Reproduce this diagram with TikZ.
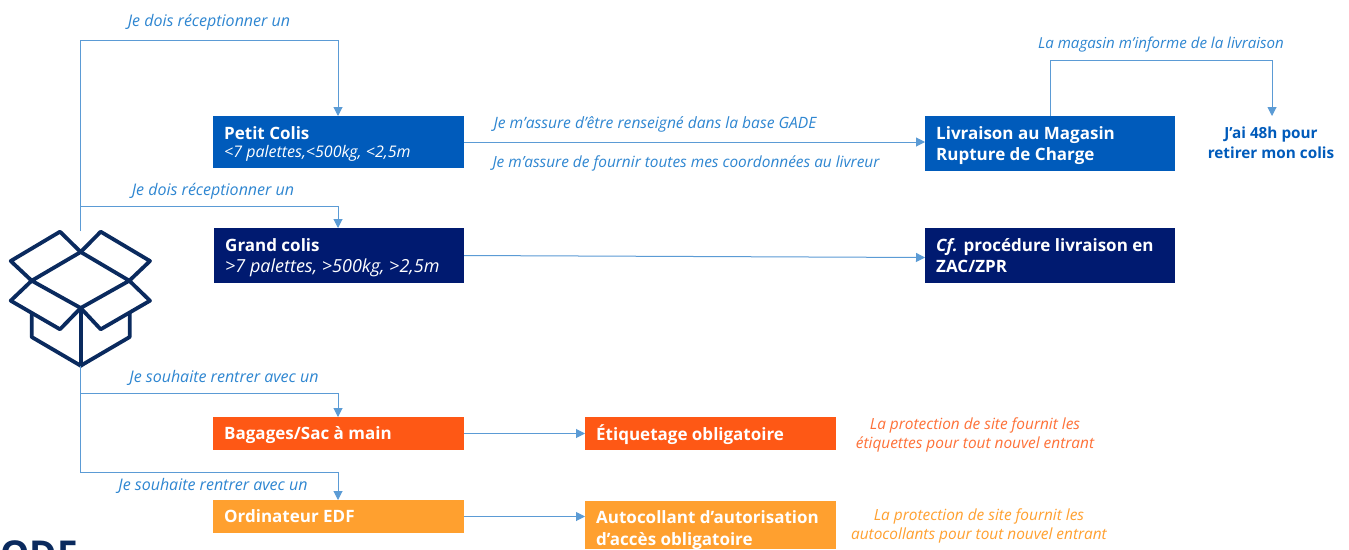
\documentclass[tikz,border=0pt]{standalone}
\usepackage{fontspec}
\setmainfont{Open Sans}
\usetikzlibrary{arrows.meta}
\definecolor{lineblue}{HTML}{5B9BD5}
\definecolor{labblue}{HTML}{2E86D1}
\definecolor{boxblue}{HTML}{005BBB}
\definecolor{navy}{HTML}{001A70}
\definecolor{iconnavy}{HTML}{0A2A5E}
\definecolor{dorange}{HTML}{FE5815}
\definecolor{lorange}{HTML}{FFA02F}
\tikzset{
 colbox/.style={rectangle,fill=#1,text=white},
 head/.style={font=\fontsize{17}{21.5}\selectfont\bfseries},
 lab/.style={font=\fontsize{16}{20}\selectfont\itshape,text=labblue,inner sep=0pt},
 labs/.style={lab,font=\fontsize{15.4}{20}\selectfont\itshape},
 note/.style={font=\fontsize{15.4}{18.5}\selectfont\itshape,inner sep=0pt,align=center},
 conn/.style={draw=lineblue,line width=1pt},
 arr/.style={conn,-{Triangle[length=9pt,width=9pt]}},
 ic/.style={draw=iconnavy,line width=3.8pt,line join=round,line cap=round}
}
\newcommand{\putbox}[8]{% name x1 y1 x2 y2 colour yshift text
 \node[colbox=#6,anchor=north west,inner sep=0pt,outer sep=0pt,minimum width=#4pt-#2pt,minimum height=#5pt-#3pt] (#1) at (#2,#3) {};
 \node[anchor=west,inner sep=0pt,text=white,align=left,head] (#1t) at ([xshift=11pt,yshift=#7pt]#1.west) {#8};
}
\begin{document}
\begin{tikzpicture}[x=1pt,y=-1pt]
\useasboundingbox (0,0) rectangle (1349,549);
\fill[white] (0,0) rectangle (1349,549);
\putbox{pc}{213}{116}{464}{168}{boxblue}{-2}{Petit Colis\\[-3pt]{\mdseries\itshape\fontsize{16}{18}\selectfont <7 palettes,<500kg, <2,5m}}
\putbox{lm}{925}{116}{1175}{171}{boxblue}{-2}{Livraison au Magasin\\Rupture de Charge}
\putbox{gc}{214}{228}{464}{283}{navy}{-2}{Grand colis\\[-1pt]{\mdseries\itshape\fontsize{18}{20}\selectfont >7 palettes, >500kg, >2,5m}}
\putbox{cf}{925}{228}{1175}{283}{navy}{0}{\textit{Cf.} procédure livraison en\\ZAC/ZPR}
\putbox{bg}{213}{417}{464}{450}{dorange}{-2}{Bagages/Sac à main}
\putbox{et}{585}{417}{836}{450}{dorange}{-1}{Étiquetage obligatoire}
\putbox{od}{213}{500}{464}{533}{lorange}{0}{Ordinateur EDF}
\putbox{au}{585}{501}{836}{549}{lorange}{-5}{Autocollant d’autorisation\\d’accès obligatoire}
% icon
\begin{scope}[ic]
\coordinate (t) at (80.7,252);
\coordinate (l) at (31.7,280.7);
\coordinate (r) at (129.3,280.7);
\coordinate (c) at (80.7,308);
\draw (t)--(l)--(c)--(r)--cycle;
\draw (t)--(60,231.7)--(10.7,261)--(l)--(10.7,300.7)--(60,329.3)--(c)--(100.7,329.3)--(150,300.7)--(r)--(150,261)--(100.7,231.7)--cycle;
\draw (31.7,313)--(31.7,337)--(80.7,365.7)--(129.7,337)--(129.7,313);
\draw (c)--(80.7,365.7);
\end{scope}
\coordinate (tr1) at (80,231);
\coordinate (tr2) at (80,365.7);
\coordinate (k1) at (80,40);
\coordinate (k2) at (80,206);
\coordinate (k3) at (80,393);
\coordinate (k4) at (80,472);
\draw[arr] (tr1)--(k1)-|(pc.north -| 338,0);
\draw[arr] (k2)-|(gc.north -| 338,0);
\draw[conn] (tr2)--(k4);
\draw[arr] (k3)-|(bg.north -| 338,0);
\draw[arr] (k4)-|(od.north -| 338,0);
\draw[arr] (pc.east)--(lm.west |- pc.east);
\draw[arr] (gc.east)--([yshift=-2pt]cf.west);
\draw[arr] (bg)--(et);
\draw[arr] (od)--(au.west |- od);
\node[lab] (l1) at (209,22) {Je dois réceptionner un};
\node[lab] (l2) at (213,191) {Je dois réceptionner un};
\node[lab] (l3) at (224,378) {Je souhaite rentrer avec un};
\node[lab] (l4) at (213,486) {Je souhaite rentrer avec un};
\node[labs,font=\fontsize{15.6}{20}\selectfont\itshape] (l5) at (655,124) {Je m’assure d’être renseigné dans la base GADE};
\node[labs] (l6) at (686,163) {Je m’assure de fournir toutes mes coordonnées au livreur};
\node[labs,font=\fontsize{15.1}{20}\selectfont\itshape] (l7) at (1161,44.5) {La magasin m’informe de la livraison};
\node[inner sep=0pt,align=center,text=boxblue,font=\fontsize{15.3}{20}\selectfont\bfseries] (w) at (1271,143) {J’ai 48h pour\\retirer mon colis};
\coordinate (ltop) at (1050,116);
\coordinate (wtop) at (1272,116);
\draw[arr] (ltop)--(1050,60)-|(wtop);
\node[note,text=dorange!85] (n1) at (975,435) {La protection de site fournit les\\étiquettes pour tout nouvel entrant};
\node[note,text=lorange] (n2) at (979,526) {La protection de site fournit les\\autocollants pour tout nouvel entrant};
\begin{scope}
\clip (0,0) rectangle (1349,549);
\node[anchor=base west,inner sep=0pt,text=iconnavy,font=\fontsize{37}{37}\selectfont\bfseries] (edf) at (0,567) {ODF};
\end{scope}
\end{tikzpicture}
\end{document}
